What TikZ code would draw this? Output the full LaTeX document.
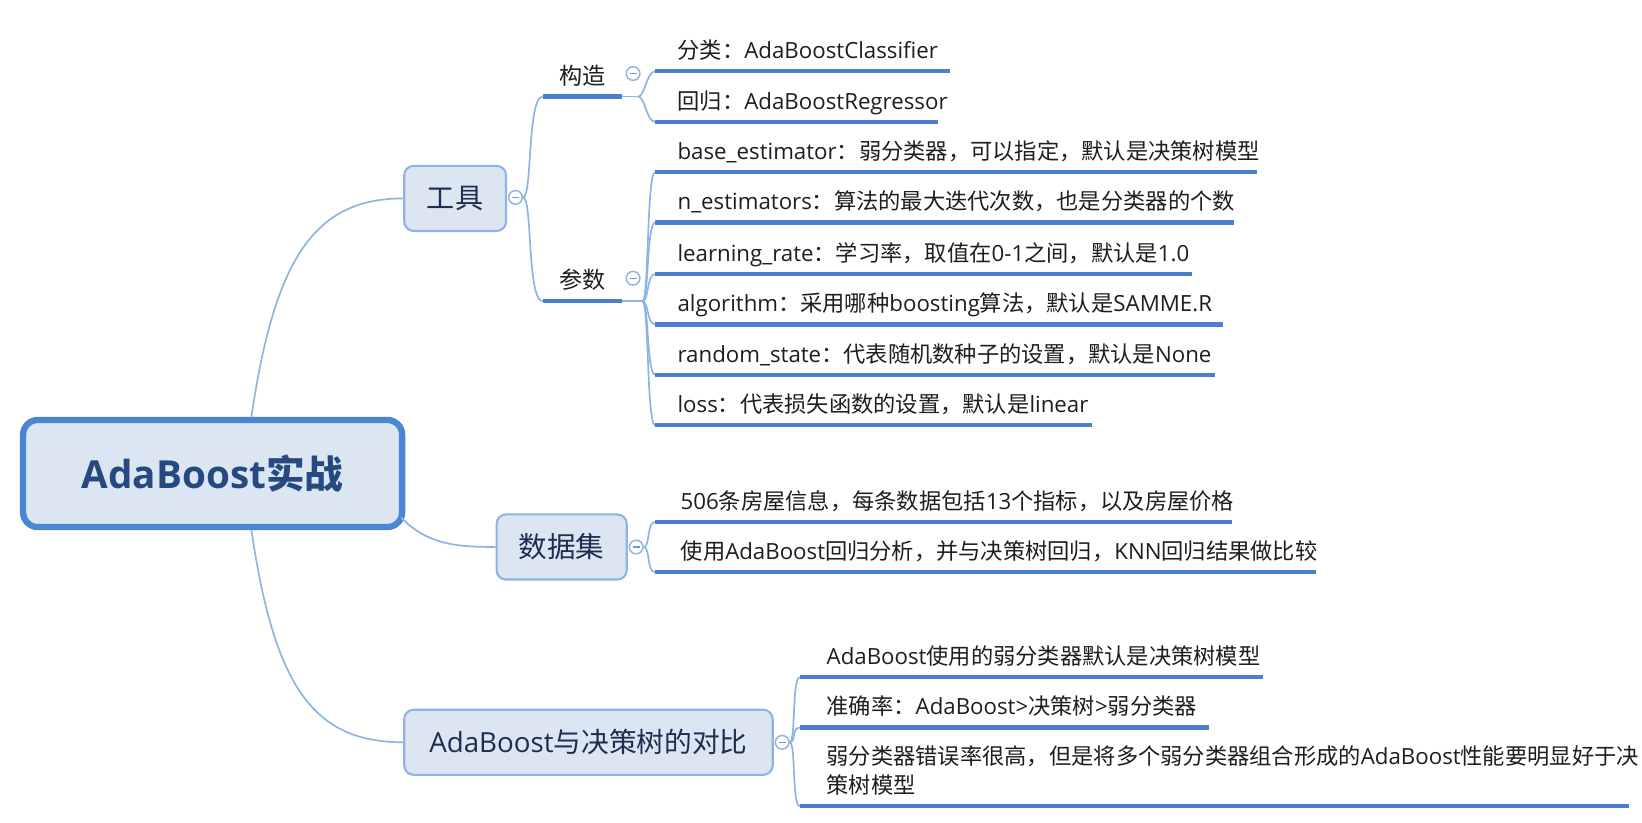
\documentclass[tikz,border=0pt]{standalone}
\usepackage{fontspec}
\setmainfont{Open Sans}
\newfontfamily\zhfont{Noto Sans CJK SC}
\newcommand{\zhp}[1]{{\zhfont #1}}
\usetikzlibrary{calc}
\definecolor{boxfill}{RGB}{220,230,243}
\definecolor{rootline}{RGB}{74,134,212}
\definecolor{subline}{RGB}{143,180,227}
\definecolor{connc}{RGB}{141,180,228}
\definecolor{ulc}{RGB}{74,128,207}
\definecolor{roottext}{RGB}{38,74,128}
\definecolor{subtext}{RGB}{30,45,80}
\definecolor{leaftext}{RGB}{30,30,30}
\definecolor{minusc}{RGB}{120,150,200}
\tikzset{
 rootbox/.style={draw=rootline, line width=3pt, fill=boxfill, rounded corners=7pt, inner sep=0pt, text=roottext, font=\fontsize{18.4}{22}\selectfont\bfseries},
 subbox/.style={draw=subline, line width=1pt, fill=boxfill, rounded corners=4.5pt, inner sep=0pt, minimum height=31pt, text=subtext},
 conn/.style={draw=connc, line width=0.8pt},
 uline/.style={draw=ulc, line width=2pt},
 leaftxt/.style={anchor=base west, inner sep=0pt, text=leaftext, font=\fontsize{10.6}{13.5}\selectfont},
 brlabel/.style={inner sep=0pt, text=leaftext, font=\fontsize{11}{13}\selectfont},
 foldc/.style={circle, draw=subline, fill=white, line width=0.7pt, minimum size=6.5pt, inner sep=0pt,
   path picture={\draw[minusc, line width=0.5pt] ([xshift=-1.7pt]path picture bounding box.center) -- ([xshift=1.7pt]path picture bounding box.center);}},
}
% name, fork, startx, y, endx, textx, text
\newcommand{\leafitem}[7]{%
  \coordinate (#1s) at (#3,#4);
  \coordinate (#1e) at (#5,#4);
  \draw[conn] (#2) .. controls +(6,0) and +(-8,0) .. (#1s);
  \draw[uline] (#1s) -- (#1e);
  \node[leaftxt] (#1) at (#6,#4-12) {#7};}
\begin{document}
\begin{tikzpicture}[x=0.5pt,y=-0.5pt]
\fill[white] (0,0) rectangle (1564,783);
\useasboundingbox (0,0) rectangle (1564,783);

% main boxes
\node[rootbox, minimum width=180.5pt, minimum height=51pt] (root) at (202.5,451) {AdaBoost\zhp{实战}};
\node[subbox, minimum width=48.5pt, font=\fontsize{13.4}{15}\selectfont] (tool) at (433.5,189) {\zhp{工具}};
\node[subbox, minimum width=62pt, font=\fontsize{13.6}{15}\selectfont] (data) at (535,521) {\zhp{数据集}};
\node[subbox, minimum width=175.5pt, font=\fontsize{13.2}{15}\selectfont] (cmp) at (560.5,707) {AdaBoost\zhp{与决策树的对比}};

% root connectors
\draw[conn] ($(root.north)+(37,0)$) .. controls +(22,-150) and +(-85,0) .. (tool.west);
\draw[conn] ($(root.south)+(37,0)$) .. controls +(22,150) and +(-85,0) .. (cmp.west);
\draw[conn] ($(root.east)+(-4,42)$) .. controls +(25,25) and +(-40,0) .. (data.west);

% fold circles
\node[foldc] (c1) at (491,188) {};
\node[foldc] (c2) at (603,70) {};
\node[foldc] (c3) at (603,265) {};
\node[foldc] (c4) at (606,521) {};
\node[foldc] (c5) at (745,707) {};

% tool branch
\coordinate (k1) at (517,92);
\coordinate (k2) at (592,92);
\coordinate (kf) at (608,92);
\coordinate (p1) at (517,287);
\coordinate (p2) at (592,287);
\coordinate (pf) at (612,287);
\draw[conn] (c1.east) .. controls +(9,0) and +(-15,0) .. (k1);
\draw[conn] (c1.east) .. controls +(9,0) and +(-15,0) .. (p1);
\draw[uline] (k1) -- (k2);
\draw[conn] (k2) -- (kf);
\draw[uline] (p1) -- (p2);
\draw[conn] (p2) -- (pf);
\node[brlabel] (gz) at (555,72) {\zhp{构造}};
\node[brlabel] (cs) at (555,266) {\zhp{参数}};

\leafitem{a1}{kf}{624}{68}{905}{645}{\zhp{分类：}AdaBoostClassifier}
\leafitem{a2}{kf}{624}{116}{893}{645}{\zhp{回归：}AdaBoostRegressor}

\leafitem{b1}{pf}{624}{164}{1197}{645}{base\_estimator\zhp{：弱分类器，可以指定，默认是决策树模型}}
\leafitem{b2}{pf}{624}{212}{1175}{645}{n\_estimators\zhp{：算法的最大迭代次数，也是分类器的个数}}
\leafitem{b3}{pf}{624}{261}{1135}{645}{learning\_rate\zhp{：学习率，取值在}0-1\zhp{之间，默认是}1.0}
\leafitem{b4}{pf}{624}{309}{1165}{645}{algorithm\zhp{：采用哪种}boosting\zhp{算法，默认是}SAMME.R}
\leafitem{b5}{pf}{624}{357}{1157}{645}{random\_state\zhp{：代表随机数种子的设置，默认是}None}
\leafitem{b6}{pf}{624}{405}{1040}{645}{loss\zhp{：代表损失函数的设置，默认是}linear}

% data branch
\leafitem{d1}{c4.east}{624}{497}{1173}{648}{506\zhp{条房屋信息，每条数据包括}13\zhp{个指标，以及房屋价格}}
\leafitem{d2}{c4.east}{624}{545}{1253}{648}{\zhp{使用}AdaBoost\zhp{回归分析，并与决策树回归，}KNN\zhp{回归结果做比较}}

% comparison branch
\leafitem{e1}{c5.east}{762}{645}{1203}{787}{AdaBoost\zhp{使用的弱分类器默认是决策树模型}}
\leafitem{e2}{c5.east}{762}{693}{1152}{787}{\zhp{准确率：}AdaBoost>\zhp{决策树}>\zhp{弱分类器}}
\coordinate (e3s) at (762,768);
\coordinate (e3e) at (1552,768);
\draw[conn] (c5.east) .. controls +(6,0) and +(-8,0) .. (e3s);
\draw[uline] (e3s) -- (e3e);
\node[leaftxt, anchor=north west, align=left] (e3) at (787,710) {\zhp{弱分类器错误率很高，但是将多个弱分类器组合形成的}AdaBoost\zhp{性能要明显好于决}\\\zhp{策树模型}};
\end{tikzpicture}
\end{document}
